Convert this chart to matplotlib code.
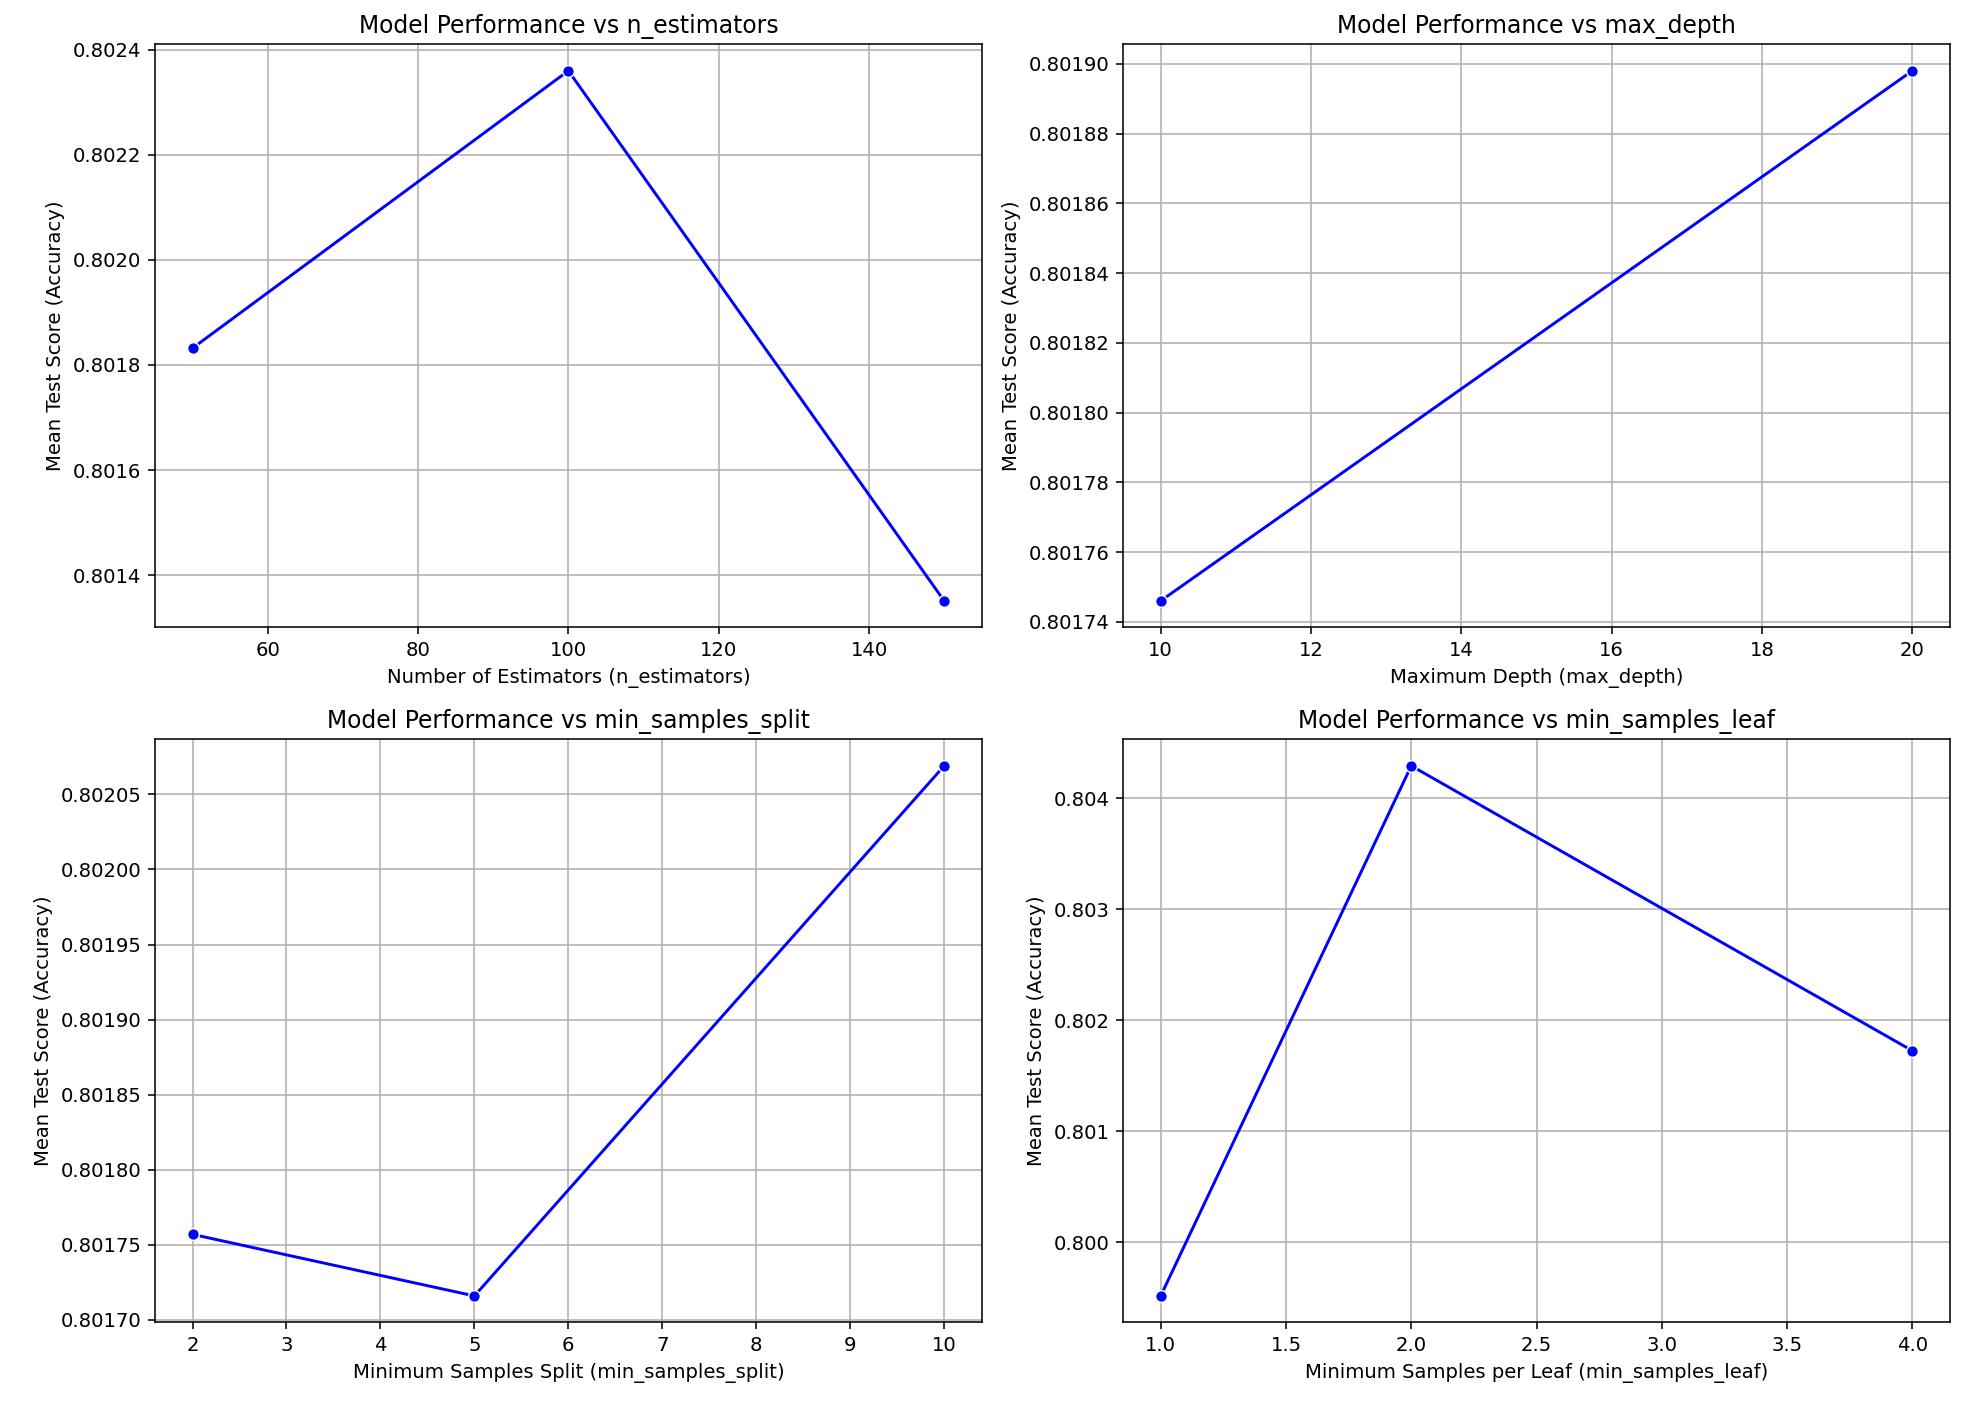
import matplotlib
matplotlib.use("Agg")
import matplotlib.pyplot as plt
import seaborn as sns

# values
n_estimators = [50, 100, 150]
score_n_estimators = [0.801832, 0.802360, 0.801351]

max_depth = [10, 20]
score_max_depth = [0.801746, 0.801898]

min_samples_split = [2, 5, 10]
score_min_samples_split = [0.801757, 0.801716, 0.802069]

min_samples_leaf = [1, 2, 4]
score_min_samples_leaf = [0.799516, 0.804294, 0.801726]

fig, axes = plt.subplots(2, 2, figsize=(14, 10))

panels = [
    (n_estimators, score_n_estimators, "n_estimators", "Number of Estimators (n_estimators)"),
    (max_depth, score_max_depth, "max_depth", "Maximum Depth (max_depth)"),
    (min_samples_split, score_min_samples_split, "min_samples_split", "Minimum Samples Split (min_samples_split)"),
    (min_samples_leaf, score_min_samples_leaf, "min_samples_leaf", "Minimum Samples per Leaf (min_samples_leaf)"),
]

for ax, (xs, ys, name, xlabel) in zip(axes.flat, panels):
    sns.lineplot(x=xs, y=ys, marker="o", color="blue", ax=ax)
    ax.set_title("Model Performance vs " + name)
    ax.set_xlabel(xlabel)
    ax.set_ylabel("Mean Test Score (Accuracy)")
    ax.grid(True)

# same spacing as the reference
plt.subplots_adjust(left=0.0785, right=0.9878, top=0.9686, bottom=0.0621,
                    wspace=0.171, hspace=0.192)
plt.savefig("out.png", dpi=141)
